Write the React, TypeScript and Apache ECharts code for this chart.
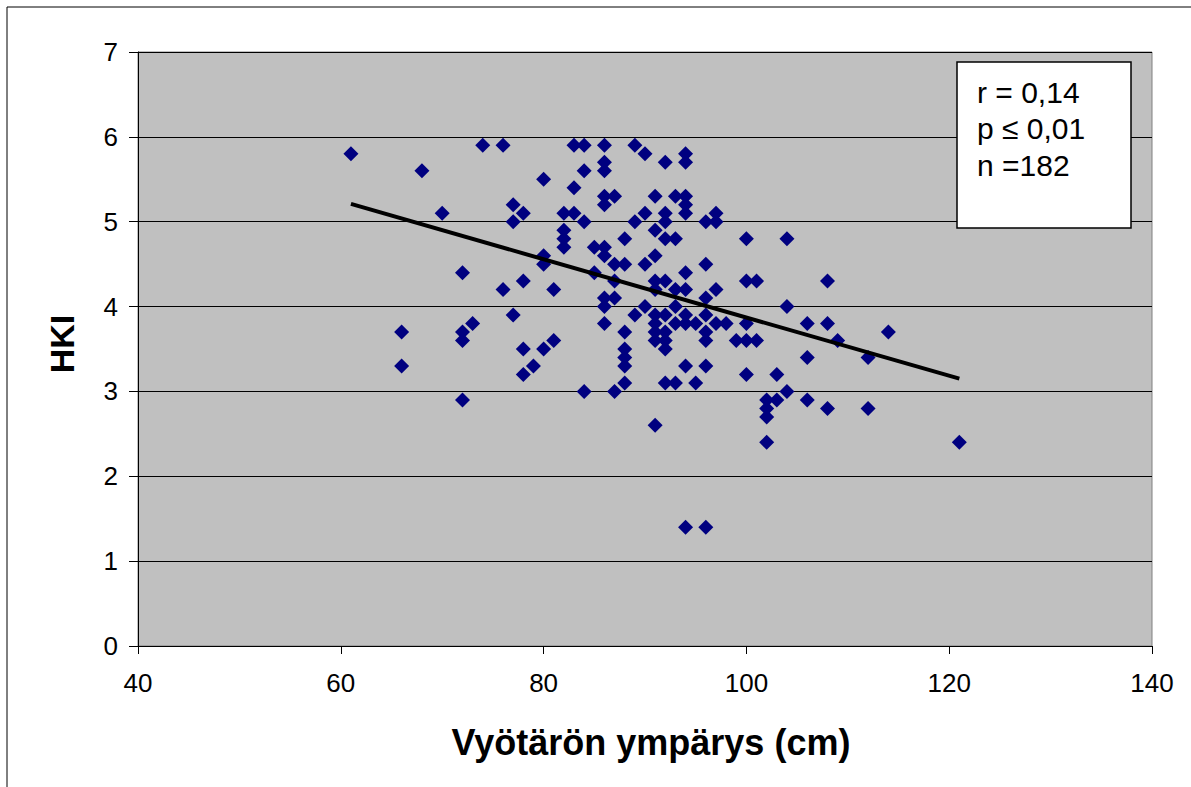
import React, { useEffect, useRef } from "react";
import * as echarts from "echarts";

// Scatter data: waist circumference (cm) -> HKI values at that x
const waistValues: number[] = [
  61, 66, 66, 68, 70, 72, 72, 72, 72, 73, 74, 76, 76, 77, 77, 77,
  78, 78, 78, 78, 79, 80, 80, 80, 80, 81, 81, 82, 82, 82, 82,
  83, 83, 83, 84, 84, 84, 84, 85, 85,
  86, 86, 86, 86, 86, 86, 86, 86, 86, 86,
  87, 87, 87, 87, 87,
  88, 88, 88, 88, 88, 88, 88,
  89, 89, 89, 90, 90, 90, 90,
  91, 91, 91, 91, 91, 91, 91, 91, 91, 91,
  92, 92, 92, 92, 92, 92, 92, 92, 92, 92,
  93, 93, 93, 93, 93, 93,
  94, 94, 94, 94, 94, 94, 94, 94, 94, 94, 94,
  95, 95,
  96, 96, 96, 96, 96, 96, 96, 96,
  97, 97, 97, 97, 98, 99,
  100, 100, 100, 100, 100, 101, 101,
  102, 102, 102, 102, 103, 103, 104, 104, 104,
  106, 106, 106, 108, 108, 108, 109, 112, 112, 114, 121,
];
const hkiValues: number[] = [
  5.8, 3.7, 3.3, 5.6, 5.1, 4.4, 3.7, 3.6, 2.9, 3.8, 5.9, 5.9, 4.2, 5.2, 5.0, 3.9,
  5.1, 4.3, 3.5, 3.2, 3.3, 5.5, 4.6, 4.5, 3.5, 4.2, 3.6, 5.1, 4.9, 4.8, 4.7,
  5.9, 5.4, 5.1, 5.9, 5.6, 5.0, 3.0, 4.7, 4.4,
  5.9, 5.7, 5.6, 5.3, 5.2, 4.7, 4.6, 4.1, 4.0, 3.8,
  5.3, 4.5, 4.3, 4.1, 3.0,
  4.8, 4.5, 3.7, 3.5, 3.4, 3.3, 3.1,
  5.9, 5.0, 3.9, 5.8, 5.1, 4.5, 4.0,
  5.3, 4.9, 4.6, 4.3, 4.2, 3.9, 3.8, 3.7, 3.6, 2.6,
  5.7, 5.1, 5.0, 4.8, 4.3, 3.9, 3.7, 3.6, 3.5, 3.1,
  5.3, 4.8, 4.2, 4.0, 3.8, 3.1,
  5.8, 5.7, 5.3, 5.2, 5.1, 4.4, 4.2, 3.9, 3.8, 3.3, 1.4,
  3.8, 3.1,
  5.0, 4.5, 4.1, 3.9, 3.7, 3.6, 3.3, 1.4,
  5.1, 5.0, 4.2, 3.8, 3.8, 3.6,
  4.8, 4.3, 3.8, 3.6, 3.2, 4.3, 3.6,
  2.9, 2.8, 2.7, 2.4, 3.2, 2.9, 4.8, 4.0, 3.0,
  3.8, 3.4, 2.9, 4.3, 3.8, 2.8, 3.6, 3.4, 2.8, 3.7, 2.4,
];

// Trend line end points
const trendX: number[] = [61, 121];
const trendY: number[] = [5.21, 3.15];

// Axis ranges
const xTicks: number[] = [40, 60, 80, 100, 120, 140];
const yTicks: number[] = [0, 1, 2, 3, 4, 5, 6, 7];

const statLines: string[] = ["r = 0,14", "p ≤ 0,01", "n =182"];
const xTitle = "Vyötärön ympärys (cm)";
const yTitle = "HKI";

const FONT = 'Arial, "Liberation Sans", Helvetica, sans-serif';

export default function App() {
  const ref = useRef<HTMLDivElement>(null);

  useEffect(() => {
    if (!ref.current) return;
    const chart = echarts.init(ref.current, undefined, { renderer: "svg" });
    const points = waistValues.map((x, i) => [x, hkiValues[i]]);
    const trend = trendX.map((x, i) => [x, trendY[i]]);

    chart.setOption({
      animation: false,
      backgroundColor: "#ffffff",
      grid: {
        left: 138,
        top: 52,
        right: 1191 - 1152,
        bottom: 787 - 646,
        show: true,
        backgroundColor: "#C0C0C0",
        borderColor: "#808080",
        borderWidth: 1,
        containLabel: false,
        outerBoundsMode: "none",
      },
      xAxis: {
        type: "value",
        min: xTicks[0],
        max: xTicks[xTicks.length - 1],
        interval: 20,
        axisLine: { show: true, onZero: false, lineStyle: { color: "#000", width: 1 } },
        axisTick: { show: true, length: 8, lineStyle: { color: "#000" } },
        axisLabel: { color: "#000", fontSize: 26, fontFamily: FONT, margin: 24 },
        splitLine: { show: false },
      },
      yAxis: {
        type: "value",
        min: yTicks[0],
        max: yTicks[yTicks.length - 1],
        interval: 1,
        axisLine: { show: true, onZero: false, lineStyle: { color: "#000", width: 1 } },
        axisTick: { show: true, length: 9, lineStyle: { color: "#000" } },
        axisLabel: { color: "#000", fontSize: 26, fontFamily: FONT, margin: 20 },
        splitLine: { show: true, lineStyle: { color: "#000", width: 1 } },
      },
      series: [
        {
          type: "scatter",
          data: points,
          symbol: "diamond",
          symbolSize: 15,
          itemStyle: { color: "#000080", opacity: 1 },
          z: 2,
        },
        {
          type: "line",
          data: trend,
          showSymbol: false,
          symbol: "none",
          lineStyle: { color: "#000", width: 4 },
          z: 3,
        },
      ],
      graphic: [
        {
          type: "rect",
          shape: { x: 7, y: 7, width: 1300, height: 900 },
          style: { fill: "none", stroke: "#000", lineWidth: 1 },
          silent: true,
          z: 100,
        },
        {
          type: "rect",
          shape: { x: 957, y: 62, width: 174, height: 166 },
          style: { fill: "#fff", stroke: "#000", lineWidth: 1.5 },
          z: 100,
        },
        ...statLines.map((t, i) => ({
          type: "text",
          x: 977,
          y: 92 + i * 36.5,
          style: {
            text: t,
            fill: "#000",
            font: `30px ${FONT}`,
            textAlign: "left",
            textVerticalAlign: "middle",
          },
          z: 101,
        })),
        {
          type: "text",
          x: 651,
          y: 742,
          style: {
            text: xTitle,
            fill: "#000",
            font: `bold 36px ${FONT}`,
            textAlign: "center",
            textVerticalAlign: "middle",
          },
          z: 100,
        },
        {
          type: "text",
          x: 62,
          y: 344,
          rotation: Math.PI / 2,
          style: {
            text: yTitle,
            fill: "#000",
            font: `bold 34px ${FONT}`,
            textAlign: "center",
            textVerticalAlign: "middle",
          },
          z: 100,
        },
      ],
    });

    return () => chart.dispose();
  }, []);

  return (
    <div
      ref={ref}
      style={{ position: "absolute", left: 0, top: 0, width: 1191, height: 787 }}
    />
  );
}
